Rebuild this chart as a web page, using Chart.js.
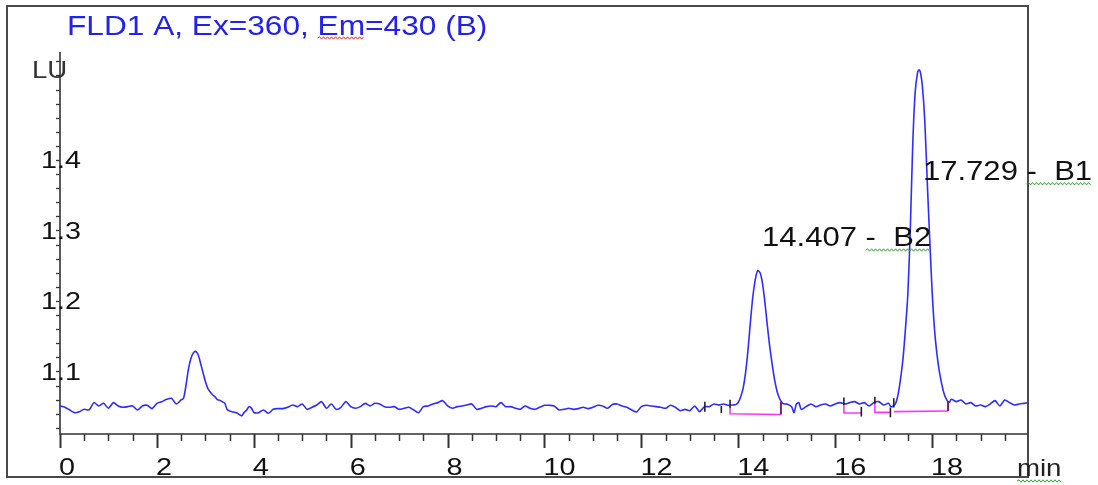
<!DOCTYPE html>
<html>
<head>
<meta charset="utf-8">
<script src="https://cdn.jsdelivr.net/npm/chart.js@4.4.1/dist/chart.umd.min.js"></script>
<style>
  html, body { margin: 0; padding: 0; background: #fff; }
  #wrap { width: 1098px; height: 485px; }
</style>
</head>
<body>
<div id="wrap"><canvas id="chrom" width="1098" height="485"></canvas></div>
<script>
  const TITLE = "FLD1 A, Ex=360, Em=430 (B)";
  const Y_UNIT = "LU";
  const X_UNIT = "min";

  const xTickLabels = [0, 2, 4, 6, 8, 10, 12, 14, 16, 18];
  const yTickLabels = [1.1, 1.2, 1.3, 1.4];

  const peakNames = ["B2", "B1"];
  const peakTimes = [14.407, 17.729];

  // detector trace (min / LU)
  const startTime = [0, 0.1, 0.2, 0.3, 0.4, 0.5, 0.6, 0.7, 0.8, 0.9, 1.0, 1.1, 1.2, 1.3, 1.4, 1.5, 1.6, 1.7, 1.8, 1.9, 2.0, 2.1, 2.2, 2.3, 2.4, 2.5];
  const startLU = [1.0511, 1.0492, 1.0454, 1.0416, 1.0430, 1.0463, 1.0454, 1.0558, 1.0511, 1.0548, 1.0478, 1.0558, 1.0511, 1.0492, 1.0501, 1.0511, 1.0454, 1.0511, 1.0520, 1.0473, 1.0548, 1.0572, 1.0605, 1.0619, 1.0539, 1.0596];

  const firstPeakTime = [2.55, 2.6, 2.65, 2.7, 2.75, 2.8, 2.85, 2.9, 2.95, 3.0, 3.05, 3.1, 3.15, 3.2, 3.25, 3.3, 3.35, 3.4, 3.45, 3.5, 3.55, 3.6, 3.65, 3.7, 3.75, 3.8, 3.85, 3.9, 3.95, 4.0, 4.05];
  const firstPeakLU = [1.0619, 1.0800, 1.1030, 1.1180, 1.1260, 1.1285, 1.1240, 1.1120, 1.0990, 1.0860, 1.0760, 1.0710, 1.0670, 1.0640, 1.0600, 1.0590, 1.0570, 1.0550, 1.0460, 1.0440, 1.0430, 1.0420, 1.0410, 1.0390, 1.0370, 1.0420, 1.0450, 1.0500, 1.0480, 1.0420, 1.0410];

  const midTimeA = [4.1, 4.2, 4.3, 4.4, 4.5, 4.6, 4.7, 4.8, 4.9, 5.0, 5.1, 5.2, 5.3, 5.4, 5.5, 5.6, 5.7, 5.8, 5.9, 6.0, 6.1, 6.2, 6.3, 6.4, 6.5, 6.6, 6.7, 6.8, 6.9, 7.0, 7.1, 7.2, 7.3, 7.4, 7.5, 7.6, 7.7, 7.8, 7.9, 8.0, 8.1, 8.2, 8.3, 8.4, 8.5, 8.6, 8.7, 8.8, 8.9];
  const midLUA = [1.0416, 1.0454, 1.0407, 1.0463, 1.0473, 1.0473, 1.0492, 1.0525, 1.0501, 1.0539, 1.0463, 1.0492, 1.0525, 1.0572, 1.0478, 1.0539, 1.0463, 1.0492, 1.0572, 1.0501, 1.0478, 1.0501, 1.0548, 1.0511, 1.0548, 1.0539, 1.0500, 1.0492, 1.0501, 1.0463, 1.0478, 1.0492, 1.0454, 1.0416, 1.0501, 1.0511, 1.0539, 1.0558, 1.0586, 1.0511, 1.0478, 1.0501, 1.0511, 1.0525, 1.0539, 1.0463, 1.0478, 1.0501, 1.0511];

  const midTimeB = [9.0, 9.1, 9.2, 9.3, 9.4, 9.5, 9.6, 9.7, 9.8, 9.9, 10.0, 10.1, 10.2, 10.3, 10.4, 10.5, 10.6, 10.7, 10.8, 10.9, 11.0, 11.1, 11.2, 11.3, 11.4, 11.5, 11.6, 11.7, 11.8, 11.9, 12.0, 12.1, 12.2, 12.3, 12.4, 12.5, 12.6, 12.7, 12.8, 12.9, 13.0, 13.1, 13.2, 13.3, 13.4, 13.5, 13.6, 13.7, 13.8, 13.9];
  const midLUB = [1.0501, 1.0558, 1.0501, 1.0501, 1.0478, 1.0463, 1.0511, 1.0478, 1.0463, 1.0492, 1.0520, 1.0520, 1.0511, 1.0454, 1.0463, 1.0478, 1.0463, 1.0473, 1.0492, 1.0473, 1.0492, 1.0520, 1.0511, 1.0478, 1.0530, 1.0539, 1.0511, 1.0492, 1.0454, 1.0426, 1.0501, 1.0520, 1.0511, 1.0501, 1.0492, 1.0478, 1.0520, 1.0492, 1.0444, 1.0463, 1.0444, 1.0511, 1.0430, 1.0500, 1.0501, 1.0539, 1.0525, 1.0539, 1.0520, 1.0525];

  const peakB2Time = [13.95, 14.0, 14.05, 14.1, 14.15, 14.2, 14.25, 14.3, 14.35, 14.4, 14.45, 14.5, 14.55, 14.6, 14.65, 14.7, 14.75, 14.8, 14.85, 14.9, 14.95];
  const peakB2LU = [1.0530, 1.0560, 1.0640, 1.0760, 1.0980, 1.1300, 1.1700, 1.2060, 1.2300, 1.2430, 1.2400, 1.2250, 1.1980, 1.1650, 1.1350, 1.1100, 1.0880, 1.0720, 1.0620, 1.0560, 1.0540];

  const gapTime = [15.0, 15.1, 15.15, 15.2, 15.25, 15.3, 15.4, 15.5, 15.6, 15.7, 15.8, 15.9, 16.0, 16.1, 16.2, 16.3, 16.4, 16.5, 16.6, 16.7, 16.8, 16.9, 17.0, 17.1, 17.15];
  const gapLU = [1.0539, 1.0501, 1.0416, 1.0539, 1.0558, 1.0463, 1.0501, 1.0539, 1.0501, 1.0525, 1.0539, 1.0511, 1.0539, 1.0558, 1.0539, 1.0558, 1.0572, 1.0539, 1.0558, 1.0511, 1.0558, 1.0572, 1.0525, 1.0548, 1.0501];

  const peakB1Time = [17.2, 17.25, 17.3, 17.35, 17.4, 17.45, 17.5, 17.55, 17.6, 17.65, 17.7, 17.73, 17.76, 17.8, 17.85, 17.9, 17.95, 18.0, 18.05, 18.1, 18.15, 18.2, 18.25, 18.3, 18.35];
  const peakB1LU = [1.0510, 1.0550, 1.0680, 1.0900, 1.1180, 1.1600, 1.2100, 1.3000, 1.4200, 1.4950, 1.5240, 1.5280, 1.5240, 1.5050, 1.4550, 1.3700, 1.2900, 1.2150, 1.1600, 1.1250, 1.1000, 1.0820, 1.0680, 1.0600, 1.0560];

  const tailTime = [18.4, 18.5, 18.6, 18.7, 18.8, 18.9, 19.0, 19.1, 19.2, 19.3, 19.4, 19.5, 19.6, 19.7, 19.8, 19.9, 20.0];
  const tailLU = [1.0605, 1.0572, 1.0596, 1.0539, 1.0558, 1.0511, 1.0525, 1.0501, 1.0539, 1.0586, 1.0511, 1.0596, 1.0558, 1.0525, 1.0539, 1.0548, 1.0558];

  // integration events: baseline drawn under each peak (time, LU)
  const integBaseB2 = [[13.83, 1.048], [13.83, 1.040], [14.88, 1.039]];
  const integBaseS1 = [[16.18, 1.052], [16.18, 1.041], [16.54, 1.041]];
  const integBaseS2 = [[16.82, 1.054], [16.82, 1.042], [17.14, 1.042]];
  const integBaseB1 = [[17.21, 1.043], [18.33, 1.044]];
  const integEnds = [[14.88, 1.039, 1.057], [18.33, 1.044, 1.058]];
  // start/stop event ticks: time, low LU, high LU
  const eventTicks = [
    [13.31, 1.043, 1.057], [13.65, 1.041, 1.051], [13.83, 1.048, 1.060],
    [16.18, 1.052, 1.063], [16.54, 1.036, 1.050], [16.82, 1.054, 1.064],
    [17.14, 1.035, 1.049], [17.21, 1.049, 1.062]
  ];

  function zipPoints(times, values) {
    return times.map((t, i) => ({ x: t, y: values[i] }));
  }

  function segmentsFromTicks(ticks) {
    const pts = [];
    ticks.forEach(([t, lo, hi]) => {
      pts.push({ x: t, y: lo }, { x: t, y: hi }, { x: t, y: null });
    });
    return pts;
  }

  const tracePoints = [].concat(
    zipPoints(startTime, startLU),
    zipPoints(firstPeakTime, firstPeakLU),
    zipPoints(midTimeA, midLUA),
    zipPoints(midTimeB, midLUB),
    zipPoints(peakB2Time, peakB2LU),
    zipPoints(gapTime, gapLU),
    zipPoints(peakB1Time, peakB1LU),
    zipPoints(tailTime, tailLU)
  );

  const basePoints = [];
  [integBaseB2, integBaseS1, integBaseS2, integBaseB1].forEach((seg) => {
    seg.forEach(([t, v]) => basePoints.push({ x: t, y: v }));
    basePoints.push({ x: seg[seg.length - 1][0], y: null });
  });

  const FONT = '"Liberation Sans", Arial, sans-serif';

  function stretchText(ctx, str, x, y, sx, align) {
    const w = ctx.measureText(str).width * sx;
    const x0 = align === "center" ? x - w / 2 : x;
    ctx.save();
    ctx.translate(x0, y);
    ctx.scale(sx, 1);
    ctx.textAlign = "left";
    ctx.fillText(str, 0, 0);
    ctx.restore();
    return w;
  }

  function squiggle(ctx, x0, x1, y, color) {
    ctx.save();
    ctx.strokeStyle = color;
    ctx.lineWidth = 1;
    ctx.beginPath();
    let up = true;
    ctx.moveTo(x0, y);
    for (let x = x0 + 2; x <= x1; x += 2) {
      ctx.lineTo(x, up ? y - 1.2 : y + 1.2);
      up = !up;
    }
    ctx.stroke();
    ctx.restore();
  }

  const chromDecor = {
    id: "chromDecor",
    beforeDatasetsDraw(chart) {
      const { ctx, chartArea: a, scales: { x, y } } = chart;
      ctx.save();
      // outer frame
      ctx.strokeStyle = "#4a4a4a";
      ctx.lineWidth = 2;
      ctx.strokeRect(7, 6, 1021, 471);

      // axes
      ctx.strokeStyle = "#333";
      ctx.lineWidth = 1.6;
      ctx.beginPath();
      ctx.moveTo(a.left, a.top);
      ctx.lineTo(a.left, a.bottom);
      ctx.lineTo(a.right, a.bottom);
      ctx.stroke();

      // x ticks every 0.5 min
      for (let k = 0; k < 40; k++) {
        const t = k * 0.5;
        const px = Math.round(x.getPixelForValue(t)) + 0.5;
        const major = k % 4 === 0;
        ctx.lineWidth = major ? 2 : 1.5;
        ctx.beginPath();
        ctx.moveTo(px, a.bottom);
        ctx.lineTo(px, a.bottom + (major ? 14 : 7));
        ctx.stroke();
      }
      // y ticks every 0.02 LU
      ctx.lineWidth = 1.3;
      for (let k = 1; k <= 27; k++) {
        const v = 1 + k * 0.02;
        const py = Math.round(y.getPixelForValue(v)) + 0.5;
        if (py < a.top) continue;
        ctx.beginPath();
        ctx.moveTo(a.left - 4, py);
        ctx.lineTo(a.left, py);
        ctx.stroke();
      }
      ctx.restore();
    },
    afterDatasetsDraw(chart) {
      const { ctx, chartArea: a, scales: { x, y } } = chart;
      ctx.save();
      ctx.textBaseline = "alphabetic";

      // title
      ctx.font = "28px " + FONT;
      ctx.fillStyle = "#2222ee";
      const sxTitle = 1.13;
      const pre = ctx.measureText("FLD1 A, Ex=360, ").width * sxTitle;
      const emW = ctx.measureText("Em").width * sxTitle;
      stretchText(ctx, TITLE, 67, 35, sxTitle);
      squiggle(ctx, 67 + pre, 67 + pre + emW, 38, "#e03030");

      // unit labels
      ctx.font = "24px " + FONT;
      ctx.fillStyle = "#333";
      stretchText(ctx, Y_UNIT, 32, 78, 1.15);
      ctx.fillStyle = "#222";
      const minW = stretchText(ctx, X_UNIT, 1017, 476, 1.15);
      squiggle(ctx, 1017, 1017 + minW, 481, "#30a030");

      // y tick labels
      ctx.font = "23px " + FONT;
      ctx.fillStyle = "#111";
      yTickLabels.forEach((v) => {
        const py = y.getPixelForValue(v);
        ctx.textBaseline = "middle";
        stretchText(ctx, v.toFixed(1), a.left + 1, py + 2, 1.25, "center");
      });
      // x tick labels
      ctx.textBaseline = "alphabetic";
      ctx.font = "24px " + FONT;
      xTickLabels.forEach((t) => {
        const px = x.getPixelForValue(t);
        stretchText(ctx, String(t), px - 1, 475, 1.2);
      });

      // peak labels
      ctx.font = "27px " + FONT;
      ctx.fillStyle = "#111";
      const labelLU = [1.278, 1.372];
      peakTimes.forEach((t, i) => {
        const px = x.getPixelForValue(t) + 4;
        const py = y.getPixelForValue(labelLU[i]);
        const head = t.toFixed(3) + " ";
        const sx = 1.15;
        const headW = ctx.measureText(head).width * sx;
        const w = stretchText(ctx, head + "-  " + peakNames[i], px, py, sx);
        squiggle(ctx, px + headW, px + w, py + 4, "#30a030");
      });
      ctx.restore();
    }
  };

  new Chart(document.getElementById("chrom"), {
    type: "line",
    data: {
      datasets: [
        {
          data: segmentsFromTicks(eventTicks),
          borderColor: "#222",
          borderWidth: 1.6,
          pointRadius: 0,
          spanGaps: false
        },
        {
          data: segmentsFromTicks(integEnds),
          borderColor: "#7a1f6e",
          borderWidth: 2,
          pointRadius: 0,
          spanGaps: false
        },
        {
          data: basePoints,
          borderColor: "#ff33ff",
          borderWidth: 1.6,
          pointRadius: 0,
          spanGaps: false
        },
        {
          data: tracePoints,
          borderColor: "#2d2dff",
          borderWidth: 1.6,
          pointRadius: 0,
          tension: 0.25
        }
      ]
    },
    options: {
      responsive: false,
      animation: false,
      layout: { padding: { left: 60, right: 70, top: 52, bottom: 51 } },
      plugins: { legend: { display: false }, tooltip: { enabled: false } },
      scales: {
        x: { type: "linear", min: 0, max: 19.98, display: false },
        y: { type: "linear", min: 1.0113, max: 1.5532, display: false }
      }
    },
    plugins: [chromDecor]
  });
</script>
</body>
</html>
